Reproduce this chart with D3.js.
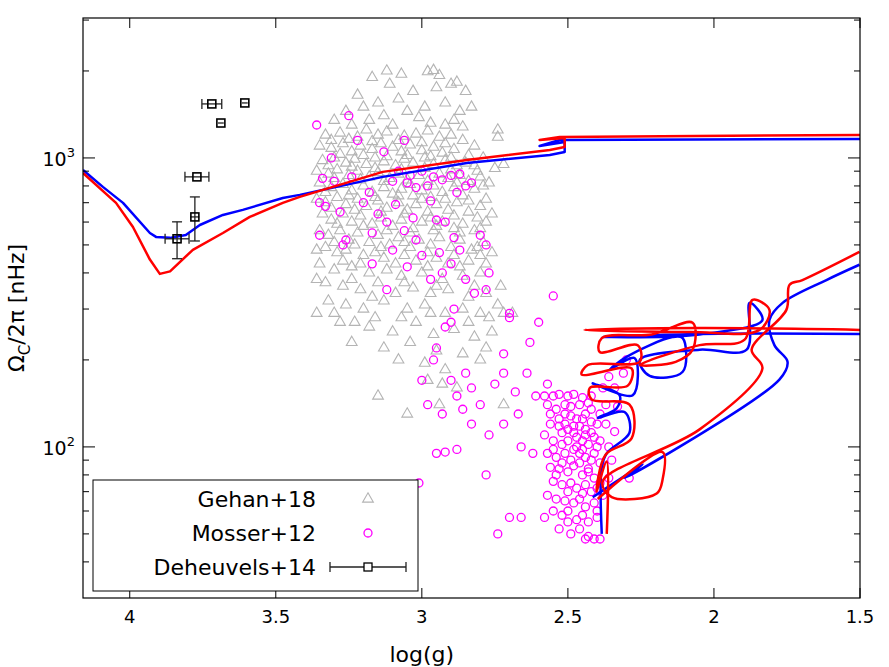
<!DOCTYPE html>
<html><head><meta charset="utf-8">
<script src="https://cdn.jsdelivr.net/npm/d3@7"></script>
<style>body{margin:0;background:#fff}text{font-family:"DejaVu Sans",sans-serif}</style>
</head><body><svg id="chart"></svg>
<script>
// Gehan+18 (log g, Omega_c/2pi nHz)
var gehan = [[3.12,2000],[3.07,1950],[2.98,1990],[2.96,2010],[2.94,1930],[3.17,1900],[3.11,1800],[2.90,1800],[2.88,1830],[3.22,1650],[3.03,1700],[2.95,1750],[2.85,1700],[3.15,1550],[3.08,1600],[2.99,1500],[2.92,1550],[3.26,1450],[3.20,1500],[3.05,1450],[2.87,1450],[2.83,1500],[3.30,1350],[3.24,1300],[3.18,1350],[3.13,1400],[3.10,1300],[3.01,1380],[2.97,1320],[2.92,1300],[2.89,1350],[2.86,1280],[2.74,1250],[2.74,1180],
[3.33,1200],[3.28,1220],[3.22,1180],[3.19,1250],[3.15,1200],[3.12,1230],[3.06,1190],[3.02,1210],[2.98,1240],[2.94,1180],[2.90,1200],[2.86,1150],[2.82,1100],
[3.35,1100],[3.31,1080],[3.27,1120],[3.24,1050],[3.21,1100],[3.17,1070],[3.14,1120],[3.10,1090],[3.07,1050],[3.04,1110],[3.00,1060],[2.96,1090],[2.93,1040],[2.89,1070],[2.84,1020],[2.79,1000],
[3.34,980],[3.30,1000],[3.26,960],[3.23,990],[3.19,950],[3.16,1000],[3.13,970],[3.09,940],[3.06,990],[3.03,960],[2.99,1000],[2.96,950],[2.92,980],[2.88,940],[2.85,960],[2.81,900],[2.75,920],[2.72,950],
[3.36,900],[3.32,880],[3.29,910],[3.25,870],[3.22,900],[3.18,860],[3.15,890],[3.11,850],[3.08,880],[3.05,840],[3.01,870],[2.98,830],[2.94,880],[2.91,850],[2.87,870],[2.84,830],[2.80,860],[2.77,820],
[3.35,820],[3.31,790],[3.27,810],[3.24,770],[3.20,800],[3.17,760],[3.13,790],[3.10,750],[3.07,780],[3.03,740],[3.00,770],[2.97,730],[2.93,760],[2.89,790],[2.86,740],[2.82,780],[2.78,720],
[3.36,720],[3.33,700],[3.29,730],[3.26,690],[3.22,720],[3.19,680],[3.15,710],[3.12,670],[3.08,700],[3.05,660],[3.02,690],[2.98,650],[2.95,690],[2.91,660],[2.88,700],[2.84,650],[2.80,680],[2.76,640],
[3.34,640],[3.31,610],[3.27,640],[3.24,600],[3.21,630],[3.17,590],[3.14,620],[3.10,580],[3.07,610],[3.03,570],[3.00,600],[2.96,560],[2.93,600],[2.89,570],[2.86,590],[2.82,560],[2.78,600],
[3.35,560],[3.32,540],[3.28,560],[3.25,520],[3.22,550],[3.18,510],[3.15,540],[3.11,500],[3.08,530],[3.04,490],[3.01,520],[2.97,500],[2.94,530],[2.90,490],[2.87,520],[2.83,480],[2.79,510],
[3.33,490],[3.29,470],[3.26,480],[3.20,460],[3.16,470],[3.13,450],[3.06,460],[3.02,440],[2.95,450],[2.91,430],[2.84,440],[2.80,460],[2.76,470],
[3.35,430],[3.30,410],[3.24,420],[3.18,400],[3.12,410],[3.07,390],[3.00,400],[2.93,380],[2.86,390],[2.80,400],
[3.33,370],[3.27,360],[3.21,350],[3.15,370],[3.09,340],[3.03,355],[2.97,340],[2.91,350],[2.84,330],[2.78,340],[2.73,360],
[3.32,320],[3.26,310],[3.20,300],[3.13,320],[3.05,300],[2.99,310],[2.92,290],[2.86,300],[2.80,290],[2.74,310],[2.72,290],
[3.28,270],[3.18,260],[3.10,250],[3.02,270],[2.96,245],[2.89,255],[2.82,240],[2.76,250],
[3.24,230],[3.13,220],[3.04,230],[2.95,215],[2.86,210],[2.78,220],[3.08,200],[2.99,195],[2.92,185],[2.98,170],[2.93,165],[2.88,160],[2.94,140],[3.05,130],[3.15,150],[2.80,200],[2.72,140],[2.69,290],
[3.31,1150],[3.25,1160],[3.17,1140],[3.08,1150],[3.00,1130],[2.92,1120],[3.28,1030],[3.20,1020],[3.12,1010],[3.05,1020],[2.97,1010],[2.90,1000],[3.32,940],[3.24,930],[3.16,920],[3.07,910],[2.99,920],[2.90,910],[2.82,940],[3.30,850],[3.21,840],[3.13,830],[3.04,810],[2.96,800],[2.88,820],[2.79,800],[3.33,760],[3.25,740],[3.16,730],[3.08,740],[3.00,720],[2.92,720],[2.84,710],[3.31,670],[3.23,660],[3.14,650],[3.06,640],[2.97,620],[2.89,630],[2.81,620],[3.29,590],[3.20,580],[3.12,560],[3.04,550],[2.95,580],[2.87,550],[2.80,570],[3.30,510],[3.23,500],[3.14,490],[3.06,510],[2.98,470],[2.89,460],[2.81,490],[3.36,480],[3.27,440],[3.21,430],[3.09,430],[2.98,420],[2.87,420],[2.78,430],[3.36,380],[3.24,380],[3.17,330],[3.06,370],[2.95,360],[2.82,360],[3.36,290],[3.30,290],[3.23,270],[3.16,280],[3.07,280],[2.97,290],[2.84,270],[2.77,280]];

// Mosser+12
var mosser = [[3.36,1300],[3.25,1400],[3.31,1000],[3.22,1150],[3.13,1050],[3.06,1150],[3.34,850],[3.30,830],[3.24,860],[3.35,700],[3.33,680],[3.28,650],[3.18,760],[3.20,700],[3.15,640],[3.12,600],[3.09,690],[3.05,820],[3.04,870],[3.02,790],[2.98,800],[2.96,860],[2.93,840],[2.90,870],[2.88,760],[2.87,880],[2.85,800],[2.83,820],[3.10,830],[3.08,900],[3.00,900],[2.97,710],[2.95,610],[2.92,600],[2.89,530],[3.03,620],[3.06,560],[3.27,500],[3.26,520],[3.17,550],[3.35,540],[3.17,430],[3.02,520],[2.94,470],[2.90,430],[2.87,480],[2.80,540],[2.77,400],[2.78,350],[2.82,340],[2.89,300],[2.90,270],[2.97,380],[3.05,420],[2.93,400],[2.85,380],[2.78,500],[3.00,460],[3.10,480],[3.12,350],[2.70,290],[2.70,280],
[2.95,220],[2.92,260],[3.0,170],[2.96,200],[2.90,170],[2.85,180],[2.83,160],[2.88,150],[2.80,140],[2.75,165],[2.72,180],[2.68,155],[2.67,130],[2.72,120],[2.77,110],[2.86,135],[2.83,120],[2.93,130],[2.98,140],[2.95,95],[2.92,96],[2.88,98],[2.78,80],[3.01,75],[2.72,210],[2.63,230],[2.60,270],[2.55,333],[2.64,180],[2.66,100],[2.62,95],[2.70,57],[2.66,57],[2.74,50],[2.61,150],[2.57,165],
[2.58,150],[2.55,150],[2.53,152],[2.50,150],[2.48,152],[2.45,148],[2.42,150],[2.57,140],[2.54,135],[2.51,130],[2.49,128],[2.47,125],[2.44,130],[2.42,122],[2.40,120],[2.56,120],[2.53,118],[2.50,115],[2.48,112],[2.46,118],[2.44,110],[2.41,108],[2.58,110],[2.55,105],[2.52,102],[2.50,105],[2.47,100],[2.45,98],[2.43,102],[2.40,100],[2.57,95],[2.54,92],[2.51,95],[2.49,90],[2.46,88],[2.44,92],[2.42,90],[2.39,88],[2.56,85],[2.53,84],[2.50,82],[2.48,86],[2.45,80],[2.43,82],[2.41,78],[2.55,76],[2.52,74],[2.49,75],[2.47,72],[2.44,74],[2.42,70],[2.40,72],[2.57,68],[2.54,66],[2.51,65],[2.48,64],[2.46,66],[2.44,62],[2.41,64],[2.55,60],[2.52,58],[2.50,60],[2.47,56],[2.45,58],[2.43,55],[2.40,57],[2.53,52],[2.49,50],[2.46,52],[2.43,49],[2.41,48],[2.39,48],[2.44,48],[2.52,112],[2.49,138],[2.46,140],[2.43,142],[2.51,140],[2.53,125],[2.45,125],[2.47,108],[2.52,88],[2.46,95],[2.43,84],[2.50,70],[2.45,69],[2.48,98],[2.55,98],[2.41,95],[2.44,115],[2.39,105],[2.42,112],[2.54,80],[2.50,55],[2.58,57],[2.40,60],[2.38,68],[2.56,130],[2.48,118],[2.51,120],[2.45,105],[2.42,135],[2.39,130],[2.37,140],[2.36,100],[2.37,120],[2.35,90],[2.39,75],[2.36,78],[2.30,200],[2.31,180],[2.34,160],[2.36,175],[2.33,138],[2.34,113],[2.29,78],[2.38,160]];

// Deheuvels+14: logg, omega, xerr, ylo, yhi
var deheuvels = [[3.719,1538,0.034,1538,1538],[3.606,1550,0.01,1550,1550],[3.688,1321,0.01,1321,1321],[3.770,860,0.041,860,860],[3.777,625,0.015,516,733],[3.838,525,0.041,448,601]];

// model tracks
var blueTracks = [
 [[4.16,908],[4.092,794],[4.023,699],[3.931,550],[3.910,533],[3.862,529],[3.808,541],[3.760,586],[3.681,635],[3.613,661],[3.476,727],[3.418,745],[3.134,860],[2.846,961],[2.562,1024],[2.511,1049],[2.511,1136],[2.597,1100],[2.528,1154],[1.5,1163]],
 [[2.384,50],[2.384,85],[2.367,95],[2.289,112],[2.306,132],[2.398,126],[2.333,136],[2.323,151],[2.415,166],[2.278,151],[2.272,203],[2.357,185],[2.299,205],[2.142,240],[2.107,238],[2.107,182],[2.220,176],[2.254,200],[2.049,217],[1.888,217],[1.878,315],[1.834,275],[2.049,245],[2.381,240],[2.049,246],[1.5,246]],
 [[2.415,67],[2.244,87],[2.306,78],[1.776,171],[1.748,197],[1.793,225],[1.810,275],[1.765,315],[1.615,378],[1.502,427]]
];
var redTracks = [
 [[4.16,887],[4.047,699],[3.989,577],[3.931,445],[3.897,397],[3.862,405],[3.784,481],[3.681,550],[3.589,625],[3.476,699],[3.418,733],[3.134,895],[2.846,984],[2.562,1066],[2.511,1092],[2.511,1173],[2.597,1154],[2.528,1182],[1.5,1201]],
 [[2.367,50],[2.367,89],[2.402,70],[2.371,94],[2.282,107],[2.289,140],[2.419,146],[2.425,160],[2.295,163],[2.282,187],[2.453,178],[2.432,192],[2.254,197],[2.261,225],[2.391,213],[2.384,238],[2.213,245],[2.073,269],[2.073,217],[2.131,197],[2.254,192],[2.049,225],[1.895,235],[1.868,323],[1.810,298],[1.844,254],[2.083,250],[2.443,254],[2.049,258],[1.5,254]],
 [[2.398,66],[2.176,96],[2.176,77],[2.196,69],[2.350,67],[2.381,76],[2.049,115],[1.834,187],[1.871,217],[1.752,298],[1.741,364],[1.697,378],[1.502,473]]
];

var xTicks = [4, 3.5, 3, 2.5, 2, 1.5];
var xTickLabels = ["4", "3.5", "3", "2.5", "2", "1.5"];
var yMajor = [100, 1000];
var yMinor = [40,50,60,70,80,90,200,300,400,500,600,700,800,900,2000,3000];

var W = 889, H = 667;
var margin = {top: 18, right: 29, bottom: 69, left: 83};
var width = W - margin.left - margin.right;
var height = H - margin.top - margin.bottom;

var x = d3.scaleLinear().domain([4.16, 1.5]).range([0, width]);
var y = d3.scaleLog().domain([30, 3050]).range([height, 0]);

var svg = d3.select("#chart").attr("width", W).attr("height", H);
var g = svg.append("g").attr("transform", "translate(" + margin.left + "," + margin.top + ")");

g.append("clipPath").attr("id", "clip").append("rect").attr("width", width).attr("height", height);
var plotArea = g.append("g").attr("clip-path", "url(#clip)");

plotArea.selectAll(".gehan").data(gehan).enter().append("path")
  .attr("d", d3.symbol(d3.symbolTriangle, 50))
  .attr("transform", function(d){ return "translate(" + x(d[0]) + "," + y(d[1]) + ")"; })
  .attr("fill", "none").attr("stroke", "#b4b4b4").attr("stroke-width", 1.1);

plotArea.selectAll(".mosser").data(mosser).enter().append("circle")
  .attr("cx", function(d){ return x(d[0]); })
  .attr("cy", function(d){ return y(d[1]); })
  .attr("r", 4).attr("fill", "none").attr("stroke", "#ff00ff").attr("stroke-width", 1.3);

var line = d3.line().x(function(d){ return x(d[0]); }).y(function(d){ return y(d[1]); });
var smooth = d3.line().curve(d3.curveCatmullRom.alpha(0.5)).x(function(d){ return x(d[0]); }).y(function(d){ return y(d[1]); });
function drawTracks(tracks, color){
  tracks.forEach(function(t, i){
    plotArea.append("path").datum(t).attr("d", i === 0 ? line : smooth)
      .attr("fill", "none").attr("stroke", color).attr("stroke-width", 2.5).attr("stroke-linejoin", "round");
  });
}
drawTracks(blueTracks, "#0000ff");
drawTracks(redTracks, "#ff0000");

var deh = plotArea.selectAll(".deh").data(deheuvels).enter().append("g");
deh.append("line").attr("x1", function(d){ return x(d[0] + d[2]); }).attr("x2", function(d){ return x(d[0] - d[2]); })
  .attr("y1", function(d){ return y(d[1]); }).attr("y2", function(d){ return y(d[1]); }).attr("stroke", "#222").attr("stroke-width", 1.3);
deh.append("line").attr("x1", function(d){ return x(d[0]); }).attr("x2", function(d){ return x(d[0]); })
  .attr("y1", function(d){ return y(d[3]); }).attr("y2", function(d){ return y(d[4]); }).attr("stroke", "#222").attr("stroke-width", 1.3);
deh.each(function(d){
  var s = d3.select(this), cx = x(d[0]), cy = y(d[1]);
  if (d[2] > 0.02) {
    [x(d[0] + d[2]), x(d[0] - d[2])].forEach(function(px){
      s.append("line").attr("x1", px).attr("x2", px).attr("y1", cy - 5).attr("y2", cy + 5).attr("stroke", "#222").attr("stroke-width", 1.3);
    });
  }
  if (d[4] > d[3]) {
    [y(d[3]), y(d[4])].forEach(function(py){
      s.append("line").attr("x1", cx - 5).attr("x2", cx + 5).attr("y1", py).attr("y2", py).attr("stroke", "#222").attr("stroke-width", 1.3);
    });
  }
});
deh.append("rect").attr("x", function(d){ return x(d[0]) - 4; }).attr("y", function(d){ return y(d[1]) - 4; })
  .attr("width", 8).attr("height", 8).attr("fill", "none").attr("stroke", "#000").attr("stroke-width", 1.6);

// frame and ticks (inward, all four sides)
g.append("rect").attr("width", width).attr("height", height).attr("fill", "none").attr("stroke", "#000").attr("stroke-width", 1.2);
var tk = g.append("g").attr("stroke", "#000").attr("stroke-width", 1);
xTicks.forEach(function(v){
  tk.append("line").attr("x1", x(v)).attr("x2", x(v)).attr("y1", height).attr("y2", height - 10);
  tk.append("line").attr("x1", x(v)).attr("x2", x(v)).attr("y1", 0).attr("y2", 10);
});
yMajor.forEach(function(v){
  tk.append("line").attr("x1", 0).attr("x2", 12).attr("y1", y(v)).attr("y2", y(v));
  tk.append("line").attr("x1", width).attr("x2", width - 12).attr("y1", y(v)).attr("y2", y(v));
});
yMinor.forEach(function(v){
  tk.append("line").attr("x1", 0).attr("x2", 6).attr("y1", y(v)).attr("y2", y(v));
  tk.append("line").attr("x1", width).attr("x2", width - 6).attr("y1", y(v)).attr("y2", y(v));
});
xTicks.forEach(function(v, i){
  g.append("text").attr("x", x(v)).attr("y", height + 25).attr("text-anchor", "middle")
    .attr("font-size", 18).text(xTickLabels[i]);
});
yMajor.forEach(function(v){
  var t = g.append("text").attr("x", -8).attr("y", y(v) + 8).attr("text-anchor", "end").attr("font-size", 19);
  t.append("tspan").text("10");
  t.append("tspan").attr("dy", -9).attr("font-size", 13).text(Math.round(Math.log10(v)));
});

svg.append("text").attr("x", margin.left + x(3)).attr("y", 662).attr("text-anchor", "middle").attr("font-size", 22).text("log(g)");
var yl = svg.append("text").attr("transform", "translate(24," + (margin.top + height / 2) + ") rotate(-90)")
  .attr("text-anchor", "middle").attr("font-size", 22);
yl.append("tspan").text("Ω");
yl.append("tspan").attr("dy", 6).attr("font-size", 15).text("C");
yl.append("tspan").attr("dy", -6).text("/2π [nHz]");

// legend
var lg = svg.append("g");
lg.append("rect").attr("x", 93).attr("y", 480).attr("width", 325).attr("height", 111).attr("fill", "#fff").attr("stroke", "#000").attr("stroke-width", 1);
var names = ["Gehan+18", "Mosser+12", "Deheuvels+14"];
names.forEach(function(n, i){
  lg.append("text").attr("x", 316).attr("y", 507 + i * 34).attr("text-anchor", "end").attr("font-size", 22).text(n);
});
lg.append("path").attr("d", d3.symbol(d3.symbolTriangle, 50)).attr("transform", "translate(368,499)")
  .attr("fill", "none").attr("stroke", "#b4b4b4").attr("stroke-width", 1.1);
lg.append("circle").attr("cx", 368).attr("cy", 533).attr("r", 4).attr("fill", "none").attr("stroke", "#ff00ff").attr("stroke-width", 1.3);
lg.append("line").attr("x1", 330).attr("x2", 406).attr("y1", 567).attr("y2", 567).attr("stroke", "#222").attr("stroke-width", 1.3);
[330, 406].forEach(function(px){
  lg.append("line").attr("x1", px).attr("x2", px).attr("y1", 562).attr("y2", 572).attr("stroke", "#222").attr("stroke-width", 1.3);
});
lg.append("rect").attr("x", 364).attr("y", 563).attr("width", 8).attr("height", 8).attr("fill", "#fff").attr("stroke", "#000").attr("stroke-width", 1.3);
</script></body></html>
